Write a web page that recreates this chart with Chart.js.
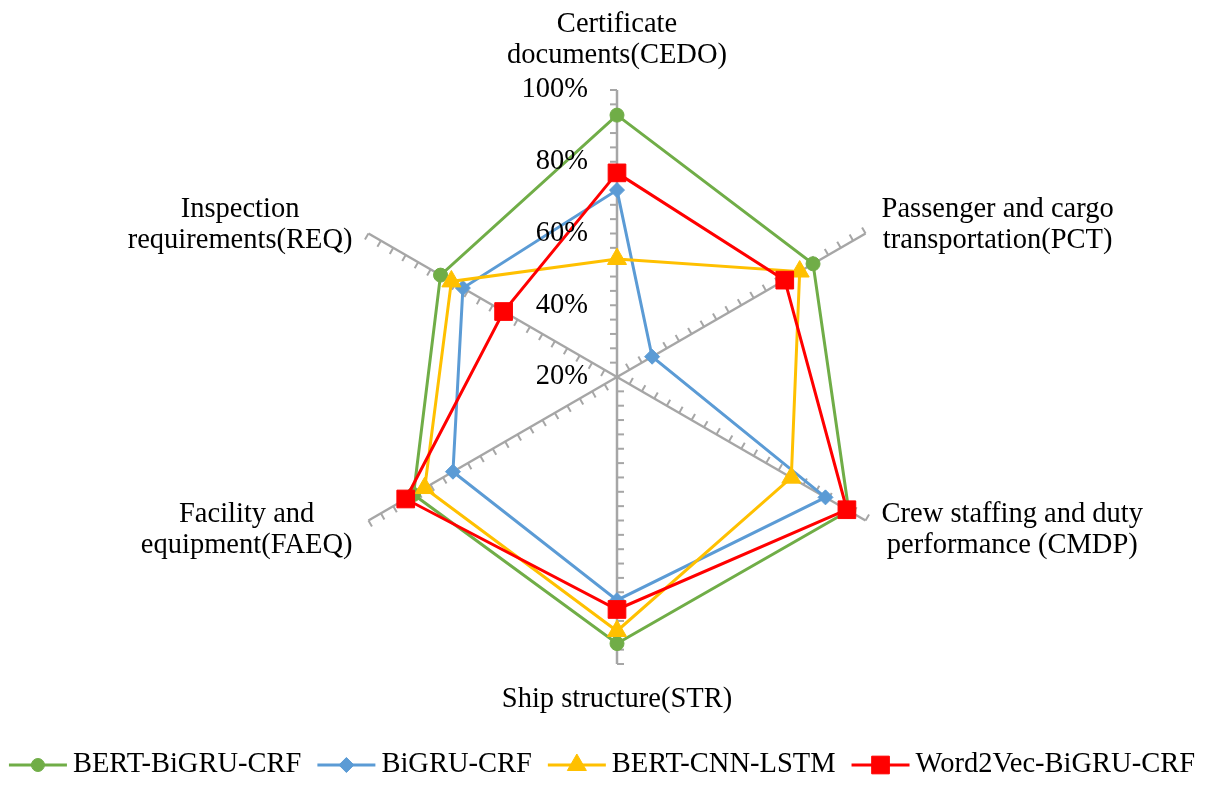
<!DOCTYPE html>
<html>
<head>
<meta charset="utf-8">
<script src="https://cdn.jsdelivr.net/npm/chart.js@4.4.0/dist/chart.umd.min.js"></script>
<style>
  html, body { margin: 0; padding: 0; background: #fff; }
  #wrap { width: 1213px; height: 785px; position: relative; }
</style>
</head>
<body>
<div id="wrap"><canvas id="radarChart"></canvas></div>
<script>
// axis categories (each entry is one label, split into lines)
var categories = [
  ["Certificate", "documents(CEDO)"],
  ["Passenger and cargo", "transportation(PCT)"],
  ["Crew staffing and duty", "performance (CMDP)"],
  ["Ship structure(STR)"],
  ["Facility and", "equipment(FAEQ)"],
  ["Inspection", "requirements(REQ)"]
]
var seriesNames = ["BERT-BiGRU-CRF", "BiGRU-CRF", "BERT-CNN-LSTM", "Word2Vec-BiGRU-CRF"]

// F1 per category, in percent
var bertBigruCrf = [93.0, 83.1, 94.6, 94.3, 85.5, 76.8]
var bigruCrf = [72.1, 31.3, 87.1, 82.2, 72.8, 69.6]
var bertCnnLstm = [52.9, 78.8, 76.1, 90.8, 81.9, 73.3]
var word2vecBigruCrf = [76.9, 74.0, 94.0, 84.8, 88.0, 56.5]

var tickValues = [20, 40, 60, 80, 100]
var minorStep = 4

var FONT = '28.5px "Liberation Serif", "Times New Roman", serif'
var AXIS_GREY = "#a6a6a6"

var styles = [
  { color: "#70ad47", point: "circle", radius: 7, legendRadius: 6.5 },
  { color: "#5b9bd5", point: "rectRot", radius: 7.5, legendRadius: 7.5 },
  { color: "#ffc000", point: "triangle", radius: 11, legendRadius: 11 },
  { color: "#ff0000", point: "rect", radius: 12.5, legendRadius: 12.5 }
]
var seriesData = [bertBigruCrf, bigruCrf, bertCnnLstm, word2vecBigruCrf]

var datasets = seriesData.map(function (values, i) {
  var s = styles[i]
  return {
    label: seriesNames[i],
    data: values,
    borderColor: s.color,
    backgroundColor: s.color,
    borderWidth: 3,
    fill: false,
    tension: 0,
    pointStyle: s.point,
    pointRadius: s.radius,
    pointHoverRadius: s.radius,
    pointBackgroundColor: s.color,
    pointBorderColor: s.color,
    pointBorderWidth: 1,
    order: seriesData.length - i   // later series sit on top
  }
})

function drawMarker(ctx, style, radius, color, x, y) {
  ctx.fillStyle = color
  ctx.strokeStyle = color
  ctx.lineWidth = 1
  Chart.helpers.drawPoint(ctx, { pointStyle: style, radius: radius, rotation: 0, borderWidth: 1 }, x, y)
}

// small ticks along every spoke, tick labels, category labels and legend
var radarDecor = {
  id: "radarDecor",
  beforeDatasetsDraw: function (chart) {
    var ctx = chart.ctx
    var scale = chart.scales.r
    ctx.save()
    ctx.strokeStyle = AXIS_GREY
    ctx.lineWidth = 2
    for (var i = 0; i < categories.length; i++) {
      var a = scale.getIndexAngle(i)
      var nx = -Math.cos(a), ny = -Math.sin(a)
      for (var v = tickValues[0] + minorStep; v <= 100; v += minorStep) {
        var p = scale.getPointPositionForValue(i, v)
        ctx.beginPath()
        ctx.moveTo(p.x, p.y)
        ctx.lineTo(p.x + nx * 7, p.y + ny * 7)
        ctx.stroke()
      }
    }
    ctx.restore()
  },
  afterDraw: function (chart) {
    var ctx = chart.ctx
    var scale = chart.scales.r
    ctx.save()
    ctx.font = FONT
    ctx.fillStyle = "#000"

    // value labels on the vertical spoke
    ctx.textAlign = "right"
    ctx.textBaseline = "middle"
    tickValues.forEach(function (v) {
      var p = scale.getPointPositionForValue(0, v)
      ctx.fillText(v + "%", scale.xCenter - 29, p.y)
    })

    // category labels
    ctx.textBaseline = "alphabetic"
    ctx.textAlign = "center"
    var lineH = 31
    categories.forEach(function (lines, i) {
      var pt = scale.getPointPosition(i, scale.drawingArea)
      var w = Math.max.apply(null, lines.map(function (t) { return ctx.measureText(t).width }))
      var cx, y0
      if (Math.abs(pt.x - scale.xCenter) < 1) {
        cx = pt.x
        y0 = pt.y < scale.yCenter ? pt.y - 27 - lineH * (lines.length - 1) : pt.y + 43
      } else if (pt.x > scale.xCenter) {
        cx = pt.x + 16 + w / 2
        y0 = pt.y + (pt.y < scale.yCenter ? -16.5 : 1.5)
      } else {
        cx = pt.x - 16 - w / 2
        y0 = pt.y + (pt.y < scale.yCenter ? -16.5 : 1.5)
      }
      lines.forEach(function (t, k) { ctx.fillText(t, cx, y0 + k * lineH) })
    })

    // legend row
    var sample = 58, gapText = 6, gapItem = 16, ly = 765
    var widths = seriesNames.map(function (t) { return ctx.measureText(t).width })
    var total = widths.reduce(function (s, w) { return s + sample + gapText + w }, 0) + gapItem * (seriesNames.length - 1)
    var x = 602 - total / 2
    ctx.textAlign = "left"
    ctx.textBaseline = "middle"
    seriesNames.forEach(function (name, i) {
      var s = styles[i]
      ctx.strokeStyle = s.color
      ctx.lineWidth = 3
      ctx.beginPath()
      ctx.moveTo(x, ly)
      ctx.lineTo(x + sample, ly)
      ctx.stroke()
      drawMarker(ctx, s.point, s.legendRadius, s.color, x + sample / 2, ly)
      ctx.fillStyle = "#000"
      ctx.fillText(name, x + sample + gapText, ly)
      x += sample + gapText + widths[i] + gapItem
    })
    ctx.restore()
  }
}

var radarChart = new Chart(document.getElementById("radarChart").getContext("2d"), {
  type: "radar",
  data: { labels: categories, datasets: datasets },
  options: {
    responsive: true,
    maintainAspectRatio: false,
    animation: false,
    layout: { padding: { left: 21, right: 0, top: 90, bottom: 121 } },
    plugins: {
      legend: { display: false },
      tooltip: { enabled: false }
    },
    scales: {
      r: {
        min: 20,
        max: 100,
        ticks: { display: false, stepSize: 20 },
        grid: { display: false },
        angleLines: { color: AXIS_GREY, lineWidth: 2.5 },
        pointLabels: { display: false }
      }
    }
  },
  plugins: [radarDecor]
})
</script>
</body>
</html>
